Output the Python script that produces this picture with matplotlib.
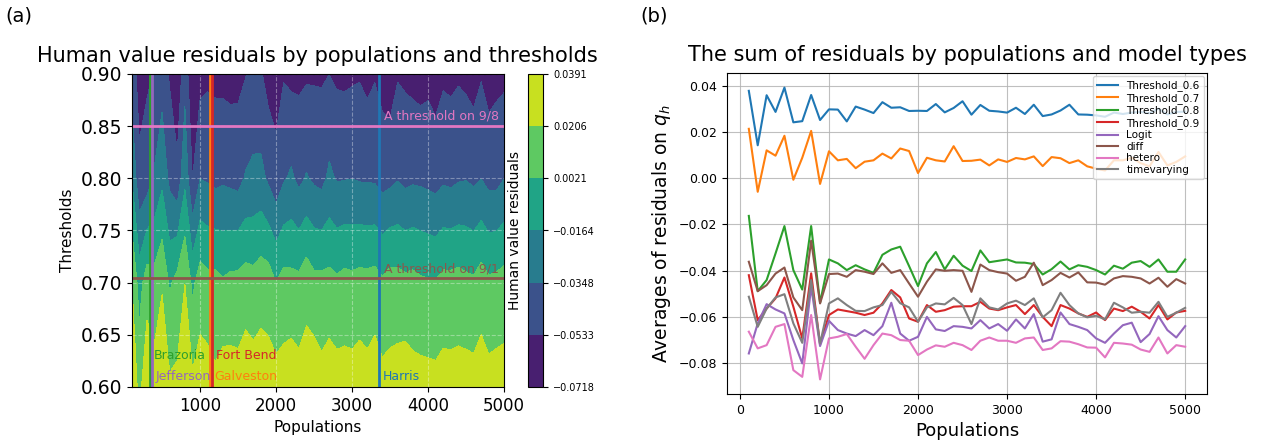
import numpy as np
import matplotlib
matplotlib.use("Agg")
import matplotlib.pyplot as plt

populations = list(range(100, 5001, 100))

thr_06 = [0.0377, 0.0142, 0.0358, 0.0286, 0.0391, 0.0241, 0.0246, 0.0359, 0.0251, 0.0297,
          0.0296, 0.0245, 0.0309, 0.0296, 0.0281, 0.0328, 0.0304, 0.0306, 0.0290, 0.0291,
          0.0290, 0.0320, 0.0284, 0.0303, 0.0332, 0.0274, 0.0316, 0.0291, 0.0288, 0.0283,
          0.0304, 0.0277, 0.0317, 0.0268, 0.0275, 0.0292, 0.0317, 0.0275, 0.0274, 0.0271,
          0.0265, 0.0283, 0.0277, 0.0283, 0.0286, 0.0280, 0.0300, 0.0275, 0.0286, 0.0287]
thr_07 = [0.0213, -0.0059, 0.0120, 0.0097, 0.0183, -0.0007, 0.0088, 0.0204, -0.0025, 0.0116,
          0.0077, 0.0083, 0.0043, 0.0071, 0.0077, 0.0106, 0.0085, 0.0128, 0.0117, 0.0022,
          0.0088, 0.0077, 0.0072, 0.0138, 0.0074, 0.0075, 0.0080, 0.0055, 0.0081, 0.0070,
          0.0087, 0.0081, 0.0094, 0.0052, 0.0091, 0.0086, 0.0065, 0.0077, 0.0051, 0.0041,
          0.0033, 0.0077, 0.0077, 0.0088, 0.0065, 0.0051, 0.0113, 0.0055, 0.0070, 0.0094]
thr_08 = [-0.0163, -0.0488, -0.0440, -0.0325, -0.0207, -0.0397, -0.0481, -0.0207, -0.0538, -0.0351,
          -0.0368, -0.0397, -0.0376, -0.0394, -0.0409, -0.0331, -0.0308, -0.0296, -0.0380, -0.0466,
          -0.0368, -0.0319, -0.0394, -0.0335, -0.0378, -0.0401, -0.0312, -0.0363, -0.0357, -0.0351,
          -0.0364, -0.0365, -0.0371, -0.0416, -0.0393, -0.0360, -0.0394, -0.0376, -0.0383, -0.0397,
          -0.0416, -0.0378, -0.0391, -0.0365, -0.0358, -0.0383, -0.0351, -0.0404, -0.0404, -0.0351]
thr_09 = [-0.0419, -0.0613, -0.0563, -0.0519, -0.0429, -0.0555, -0.0692, -0.0411, -0.0718, -0.0591,
          -0.0567, -0.0574, -0.0581, -0.0591, -0.0581, -0.0541, -0.0483, -0.0515, -0.0606, -0.0620,
          -0.0548, -0.0577, -0.0570, -0.0555, -0.0553, -0.0553, -0.0534, -0.0563, -0.0570, -0.0558,
          -0.0548, -0.0587, -0.0548, -0.0599, -0.0639, -0.0548, -0.0563, -0.0584, -0.0599, -0.0580,
          -0.0613, -0.0563, -0.0574, -0.0555, -0.0577, -0.0606, -0.0548, -0.0610, -0.0580, -0.0573]
logit = [-0.0757, -0.0627, -0.0544, -0.0567, -0.0584, -0.0699, -0.0800, -0.0470, -0.0725, -0.0616,
         -0.0656, -0.0671, -0.0682, -0.0656, -0.0678, -0.0639, -0.0538, -0.0671, -0.0702, -0.0685,
         -0.0599, -0.0653, -0.0660, -0.0639, -0.0642, -0.0649, -0.0613, -0.0649, -0.0630, -0.0659,
         -0.0610, -0.0649, -0.0587, -0.0706, -0.0696, -0.0580, -0.0630, -0.0642, -0.0656, -0.0692,
         -0.0711, -0.0671, -0.0635, -0.0624, -0.0708, -0.0673, -0.0596, -0.0656, -0.0688, -0.0639]
diff = [-0.0361, -0.0488, -0.0462, -0.0412, -0.0386, -0.0515, -0.0570, -0.0270, -0.0541, -0.0414,
        -0.0412, -0.0426, -0.0397, -0.0404, -0.0414, -0.0368, -0.0409, -0.0397, -0.0455, -0.0512,
        -0.0447, -0.0394, -0.0400, -0.0397, -0.0400, -0.0491, -0.0373, -0.0397, -0.0406, -0.0412,
        -0.0443, -0.0426, -0.0365, -0.0462, -0.0440, -0.0409, -0.0429, -0.0407, -0.0450, -0.0451,
        -0.0460, -0.0433, -0.0423, -0.0426, -0.0433, -0.0455, -0.0430, -0.0469, -0.0436, -0.0455]
hetero = [-0.0663, -0.0735, -0.0721, -0.0642, -0.0630, -0.0829, -0.0858, -0.0591, -0.0869, -0.0692,
          -0.0685, -0.0673, -0.0728, -0.0780, -0.0721, -0.0671, -0.0678, -0.0699, -0.0702, -0.0764,
          -0.0740, -0.0722, -0.0728, -0.0711, -0.0721, -0.0742, -0.0702, -0.0688, -0.0702, -0.0702,
          -0.0711, -0.0692, -0.0688, -0.0742, -0.0735, -0.0704, -0.0706, -0.0717, -0.0731, -0.0732,
          -0.0774, -0.0711, -0.0714, -0.0719, -0.0740, -0.0750, -0.0688, -0.0757, -0.0721, -0.0728]
timevarying = [-0.0512, -0.0642, -0.0563, -0.0515, -0.0501, -0.0627, -0.0711, -0.0440, -0.0714, -0.0541,
               -0.0519, -0.0548, -0.0573, -0.0574, -0.0558, -0.0548, -0.0491, -0.0540, -0.0558, -0.0620,
               -0.0558, -0.0541, -0.0545, -0.0517, -0.0548, -0.0630, -0.0519, -0.0558, -0.0567, -0.0541,
               -0.0529, -0.0548, -0.0519, -0.0601, -0.0570, -0.0495, -0.0548, -0.0584, -0.0601, -0.0594,
               -0.0610, -0.0538, -0.0558, -0.0581, -0.0577, -0.0581, -0.0534, -0.0599, -0.0581, -0.0560]

thresholds = [0.6, 0.7, 0.8, 0.9]
series_names = ["Threshold_0.6", "Threshold_0.7", "Threshold_0.8", "Threshold_0.9",
                "Logit", "diff", "hetero", "timevarying"]

counties = ["Brazoria", "Jefferson", "Galveston", "Fort Bend", "Harris"]
county_pops = [342, 368, 1132, 1162, 3355]
county_colors = ["tab:green", "tab:purple", "tab:orange", "tab:red", "tab:blue"]
county_label_y = [0.630, 0.610, 0.610, 0.630, 0.610]

threshold_lines = [0.85, 0.704]
threshold_labels = ["A threshold on 9/8", "A threshold on 9/1"]
threshold_colors = ["tab:pink", "tab:brown"]

W, H = 1264, 440
fig = plt.figure(figsize=(W / 100, H / 100), dpi=100)

# ---------------- (a) contour ----------------
ax1 = fig.add_axes([131.7 / W, (H - 387) / H, (504 - 131.7) / W, (387 - 74) / H])
cax = fig.add_axes([527.7 / W, (H - 387) / H, 15.6 / W, (387 - 74) / H])

Z = np.array([thr_06, thr_07, thr_08, thr_09])
X, Y = np.meshgrid(populations, thresholds)
levels = np.linspace(Z.min(), Z.max(), 7)
cs = ax1.contourf(X, Y, Z, levels=levels, cmap="viridis")
cb = fig.colorbar(cs, cax=cax)
cb.set_ticks(levels)
cb.set_ticklabels([f"{v:.4f}".replace("-", "\u2212") for v in levels])
cb.ax.tick_params(labelsize=7)
cb.set_label("Human value residuals", fontsize=10)
cb.ax.yaxis.set_label_position("left")

ax1.grid(True, linestyle="--", color="white", alpha=0.35, linewidth=0.8)
for p, name, c, ty in zip(county_pops, counties, county_colors, county_label_y):
    ax1.axvline(p, color=c, linewidth=2)
    ax1.text(p + 50, ty, name, color=c, fontsize=9, va="center", ha="left")
for t, lab, c in zip(threshold_lines, threshold_labels, threshold_colors):
    ax1.axhline(t, color=c, linewidth=2)
    ax1.text(4930, t + 0.0095, lab, color=c, fontsize=9, va="center", ha="right")

ax1.set_xlim(100, 5000)
ax1.set_ylim(0.6, 0.9)
ax1.set_xticks([1000, 2000, 3000, 4000, 5000])
ax1.set_yticks([0.60, 0.65, 0.70, 0.75, 0.80, 0.85, 0.90])
ax1.yaxis.set_major_formatter(matplotlib.ticker.FormatStrFormatter("%.2f"))
ax1.tick_params(axis="y", labelsize=13.5)
ax1.tick_params(axis="x", labelsize=12)
ax1.set_xlabel("Populations", fontsize=11)
ax1.set_ylabel("Thresholds", fontsize=11)
ax1.set_title("Human value residuals by populations and thresholds", fontsize=15, pad=9)

# ---------------- (b) lines ----------------
ax2 = fig.add_axes([727 / W, (H - 394) / H, 480 / W, 321 / H])
all_series = [thr_06, thr_07, thr_08, thr_09, logit, diff, hetero, timevarying]
colors = ["tab:blue", "tab:orange", "tab:green", "tab:red",
          "tab:purple", "tab:brown", "tab:pink", "tab:gray"]
for s, name, c in zip(all_series, series_names, colors):
    ax2.plot(populations, s, color=c, label=name, linewidth=1.5)
ax2.grid(True, color="#b0b0b0", alpha=0.8)
ax2.tick_params(labelsize=9)
ax2.set_xlabel("Populations", fontsize=13)
ax2.set_ylabel("Averages of residuals on $q_h$", fontsize=13.5)
ax2.set_title("The sum of residuals by populations and model types", fontsize=15, pad=9)
ax2.legend(loc="upper right", fontsize=7.5, labelspacing=0.15, borderaxespad=0.3)

fig.text(5 / W, 1 - 6 / H, "(a)", fontsize=14, va="top", ha="left")
fig.text(640 / W, 1 - 6 / H, "(b)", fontsize=14, va="top", ha="left")

fig.savefig("out.png", dpi=100)
